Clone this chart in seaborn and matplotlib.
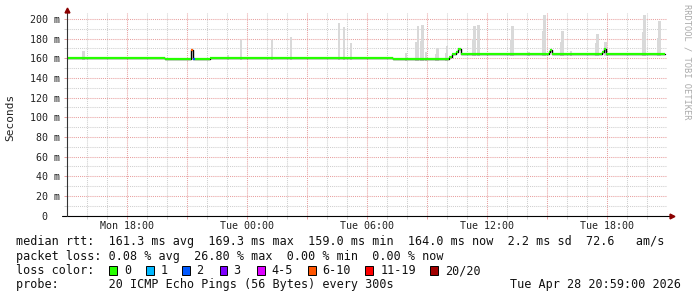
import numpy as np
import pandas as pd
import matplotlib
matplotlib.use("Agg")
import matplotlib.pyplot as plt
from matplotlib.patches import Rectangle
import seaborn as sns

# ---------------- data (hours since Mon 00:00) ----------------
med_t = [15.0, 19.9, 21.2, 21.3, 21.4, 22.15, 31.3, 34.1, 34.25, 34.45, 34.55,
         34.72, 39.08, 39.15, 39.25, 41.75, 41.83, 41.93, 44.9]
med_v = [160, 159, 168, 159, 159, 160, 159, 161, 164, 166, 169,
         164, 166, 168, 164, 166, 169, 164]
med_loss = [0, 0, 7, 2, 0, 0, 0, 0, 0, 0, 0,
            0, 0, 0, 0, 0, 0, 0]

smoke_t = [15.83, 23.05, 23.7, 25.25, 26.2, 28.6, 28.85, 29.2, 31.95, 32.45, 32.55,
           32.7, 32.78, 32.95, 33.45, 33.53, 33.95, 34.0, 35.33, 35.38, 35.58,
           37.23, 37.28, 38.08, 38.83, 38.88, 39.73, 39.78, 40.2, 41.45, 41.53,
           41.93, 43.83, 43.88, 44.58, 44.62]
smoke_top = [167, 163, 178, 178, 182, 196, 192, 175, 165, 176, 193,
             177, 194, 166, 164, 170, 165, 172, 179, 193, 194,
             178, 193, 166, 188, 204, 176, 188, 167, 175, 185,
             176, 187, 204, 181, 198]

xtick_hours = [18, 24, 30, 36, 42]
xtick_labels = ["Mon 18:00", "Tue 00:00", "Tue 06:00", "Tue 12:00", "Tue 18:00"]
ytick_values = list(range(0, 201, 20))
ytick_labels = ["0  "] + [f"{v} m" for v in range(20, 201, 20)]

loss_labels = ["0", "1", "2", "3", "4-5", "6-10", "11-19", "20/20"]
loss_colors = ["#26ff00", "#00b8ff", "#0059ff", "#7e00ff", "#dd00ff",
               "#ff5500", "#ff0000", "#a10000"]
loss_upper = [0, 1, 2, 3, 5, 10, 19, 20]

rtt_avg, rtt_max, rtt_min, rtt_now, rtt_sd, am_s = 161.3, 169.3, 159.0, 164.0, 2.2, 72.6
loss_avg, loss_max, loss_min, loss_now = 0.08, 26.80, 0.00, 0.00
probe_text = "20 ICMP Echo Pings (56 Bytes) every 300s"
stamp_text = "Tue Apr 28 20:59:00 2026"

# ---------------- figure ----------------
sns.set_style("white")
plt.rcParams["font.family"] = ["DejaVu Sans Mono", "DejaVu Sans"]

W, H = 697, 297
fig = plt.figure(figsize=(W / 100, H / 100), dpi=100)
fig.patch.set_facecolor("white")

x_left, x_right = 67, 667
y_zero, y_top = 215.5, 13
ymax = (y_zero - y_top) / 0.9833
ax = fig.add_axes([x_left / W, (H - y_zero) / H, (x_right - x_left) / W, (y_zero - y_top) / H])
ax.set_xlim(15.0, 45.0)
ax.set_ylim(0, ymax)

MAJ = "#e8a0a0"
MIN = "#cfcfcf"
ax.set_xticks([h for h in range(18, 45, 3)])
ax.set_xticklabels([xtick_labels[xtick_hours.index(h)] if h in xtick_hours else "" for h in range(18, 45, 3)])
ax.set_xticks([h for h in range(16, 45) if h % 3 != 0], minor=True)
ax.set_yticks(ytick_values)
ax.set_yticklabels(ytick_labels)
ax.set_yticks(list(range(10, 200, 20)), minor=True)

ax.grid(which="major", color=MAJ, linestyle=(0, (1, 1)), linewidth=0.75)
ax.grid(which="minor", color=MIN, linestyle=(0, (1, 1)), linewidth=0.75)
ax.set_axisbelow(True)

ax.tick_params(axis="x", which="major", length=2.2, width=0.7, color=MAJ, pad=1.5,
               labelsize=7.2, labelcolor="#222222")
ax.tick_params(axis="x", which="minor", length=2.2, width=0.7, color=MIN)
ax.tick_params(axis="y", which="major", length=2.2, width=0.7, color=MAJ, pad=3.0,
               labelsize=7.2, labelcolor="#222222")
ax.tick_params(axis="y", which="minor", length=2.2, width=0.7, color=MIN)
ax.xaxis.set_ticks_position("bottom")
ax.yaxis.set_ticks_position("left")
for s in ax.spines.values():
    s.set_visible(False)

# smoke
mt = np.array(med_t)
mv = np.array(med_v)
idx = np.clip(np.searchsorted(mt, smoke_t, side="right") - 1, 0, len(mv) - 1)
bottoms = mv[idx] - 1.5
ax.bar(smoke_t, np.array(smoke_top) - bottoms, bottom=bottoms, width=0.12,
       color="#d9d9d9", linewidth=0, zorder=2)

# median step line (black outline), then coloured segments
df = pd.DataFrame({"t": med_t, "v": med_v + [med_v[-1]]})
sns.lineplot(data=df, x="t", y="v", drawstyle="steps-post", color="black",
             linewidth=1.0, estimator=None, sort=False, ax=ax, zorder=3)
def loss_color(n):
    for u, c in zip(loss_upper, loss_colors):
        if n <= u:
            return c
    return loss_colors[-1]
seg_colors = [loss_color(n) for n in med_loss]
ax.hlines(med_v, med_t[:-1], med_t[1:], colors=seg_colors, linewidth=1.6, zorder=4)
ax.set_xlabel("")
ax.set_ylabel("")

# axis lines and arrows
ax.plot([-5 / 600, 1.0 + 3 / 600], [0, 0], transform=ax.transAxes, color="black",
        lw=0.8, clip_on=False, zorder=6)
ax.plot([0, 0], [0, 1.0 + 1 / 202], transform=ax.transAxes, color="#333333",
        lw=0.8, clip_on=False, zorder=6)
ax.plot([0], [1.0 + 3 / 202], transform=ax.transAxes, marker="^", ms=3.5,
        color="#8b0000", clip_on=False, zorder=7)
ax.plot([1.0 + 5 / 600], [0], transform=ax.transAxes, marker=">", ms=3.5,
        color="#8b0000", clip_on=False, zorder=7)

# y label and watermark
fig.text(10 / W, 1 - 117 / H, "Seconds", rotation=90, ha="center", va="center",
         fontsize=8, color="#222222")
fig.text(687 / W, 1 - 4 / H, "RRDTOOL / TOBI OETIKER", rotation=270, ha="center",
         va="top", fontsize=6.3, color="#aaaaaa")

# legend
FS = 8.5
def ft(x, y, s, **kw):
    fig.text(x / W, 1 - y / H, s, fontsize=FS, va="baseline", color="#111111", **kw)

line1 = (f"median rtt:  {rtt_avg:.1f} ms avg  {rtt_max:.1f} ms max  {rtt_min:.1f} ms min  "
         f"{rtt_now:.1f} ms now  {rtt_sd:.1f} ms sd  {am_s:.1f}   am/s")
line2 = (f"packet loss: {loss_avg:.2f} % avg  {loss_max:.2f} % max  {loss_min:.2f} % min  "
         f"{loss_now:.2f} % now")
ft(16, 245, line1)
ft(16, 260, line2)
ft(16, 274, "loss color:")
box_x = [109, 146, 182, 220, 257, 308, 365, 430]
lab_x = [124, 161, 196, 233, 271, 322, 381, 445]
for bx, lx, lab, col in zip(box_x, lab_x, loss_labels, loss_colors):
    fig.patches.append(Rectangle((bx / W, 1 - 274.5 / H), 7.5 / W, 9 / H,
                                 transform=fig.transFigure, facecolor=col,
                                 edgecolor="black", linewidth=0.7))
    ft(lx, 274, lab)
ft(16, 288, "probe:       " + probe_text)
ft(681, 288, stamp_text, ha="right")

fig.savefig("out.png", dpi=100, facecolor="white")
